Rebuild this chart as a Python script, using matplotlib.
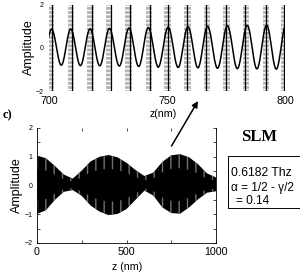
import matplotlib
matplotlib.use("Agg")
import matplotlib.pyplot as plt
import numpy as np
from matplotlib.patches import Rectangle
from matplotlib.ticker import MultipleLocator, FixedLocator

plt.rcParams["font.family"] = ["Liberation Sans", "DejaVu Sans"]

# ===== top panel: zoom 700-800 nm =====
PEAK_Z = [701.1, 709.2, 717.4, 725.6, 733.9, 742.1, 750.5, 758.9, 767.2, 775.6, 784.0, 792.2, 800.4]
PEAK_V = [0.86, 0.87, 0.88, 0.90, 0.92, 0.94, 0.96, 0.98, 1.00, 1.02, 1.04, 1.05, 1.06]
TROUGH_Z = [697.0, 705.2, 713.3, 721.5, 729.8, 738.0, 746.3, 754.7, 763.1, 771.4, 779.8, 788.1, 796.3]
TROUGH_V = [-0.76, -0.79, -0.81, -0.82, -0.83, -0.85, -0.87, -0.89, -0.91, -0.93, -0.95, -0.96, -0.97]

BAND_Z = [700.8, 709.3, 717.6, 725.4, 733.7, 742.4, 750.2, 758.7, 767.0, 775.2, 783.5, 792.0, 799.8]
LINE_Z = [701.1, 709.9, 718.3, 726.1, 734.3, 742.8, 750.4, 758.3, 766.4, 774.9, 783.1, 792.0, 799.6]
BAND_W = 2.6

TOP_XTICKS = [700, 750, 800]
TOP_YTICKS = [-2, 0, 2]

# ===== bottom panel: full 0-1000 nm envelope =====
ENV_Z = [0, 50, 100, 150, 200, 250, 300, 350, 400, 450, 500,
         550, 600, 650, 700, 750, 800, 850, 900, 950, 1000]
ENV_UP = [1.04, 0.95, 0.68, 0.38, 0.24, 0.52, 0.84, 1.00, 1.06, 0.98, 0.79,
          0.54, 0.33, 0.45, 0.82, 1.05, 1.09, 0.98, 0.74, 0.42, 0.28]
ENV_LO = [-0.99, -0.86, -0.50, -0.22, -0.16, -0.36, -0.70, -0.91, -1.03, -0.99, -0.82,
          -0.50, -0.18, -0.35, -0.76, -0.96, -0.98, -0.76, -0.48, -0.25, -0.20]

BOT_XTICKS = [0, 500, 1000]
BOT_YTICKS = [-2, -1, 0, 1, 2]


def wave_from_extrema(zs, vs, n=24):
    # half-cosine segments between successive extrema
    order = np.argsort(zs)
    zs = np.asarray(zs)[order]
    vs = np.asarray(vs)[order]
    xx, yy = [], []
    t = np.linspace(0, 1, n)
    for i in range(len(zs) - 1):
        xx.append(zs[i] + t * (zs[i + 1] - zs[i]))
        yy.append(vs[i] + (vs[i + 1] - vs[i]) * (1 - np.cos(np.pi * t)) / 2)
    return np.concatenate(xx), np.concatenate(yy)


fig = plt.figure(figsize=(3.0, 2.73), dpi=100)

# ---- top axes ----
ax1 = fig.add_axes([49 / 300, 1 - 91.5 / 273, 236 / 300, 87 / 273])
for bz in BAND_Z:
    ax1.axvspan(bz - BAND_W / 2, bz + BAND_W / 2, facecolor="#b4b4b4",
                edgecolor="white", hatch="----", linewidth=0, zorder=1)
for lz in LINE_Z:
    ax1.axvline(lz, color="black", linewidth=0.9, zorder=2)
wz, wv = wave_from_extrema(PEAK_Z + TROUGH_Z, PEAK_V + TROUGH_V)
ax1.plot(wz, wv, color="black", linewidth=1.1, zorder=3)
ax1.set_xlim(700, 800)
ax1.set_ylim(-2, 2)
ax1.set_xticks(TOP_XTICKS)
ax1.set_yticks(TOP_YTICKS)
ax1.tick_params(axis="x", labelsize=7.7, length=0, pad=3)
ax1.tick_params(axis="y", labelsize=5, length=0, pad=4)
for s in ax1.spines.values():
    s.set_visible(False)
fig.text(29 / 300, 1 - 47.5 / 273, "Amplitude", rotation=90,
         ha="center", va="center", fontsize=9)
fig.text(163 / 300, 1 - 114 / 273, "z(nm)", ha="center", va="center", fontsize=7.7)

# ---- bottom axes ----
ax2 = fig.add_axes([37 / 300, 1 - 243 / 273, 179 / 300, 115 / 273])
ax2.fill_between(ENV_Z, ENV_LO, ENV_UP, facecolor="black", edgecolor="#707070",
                 hatch="||", linewidth=0, zorder=2)
core_up = [0.55 * u for u in ENV_UP]
core_lo = [0.55 * l for l in ENV_LO]
ax2.fill_between(ENV_Z, core_lo, core_up, facecolor="black", linewidth=0, zorder=3)
ax2.set_xlim(0, 1000)
ax2.set_ylim(-2, 2)
ax2.xaxis.set_major_locator(FixedLocator(BOT_XTICKS))
ax2.xaxis.set_minor_locator(MultipleLocator(250))
ax2.yaxis.set_major_locator(FixedLocator(BOT_YTICKS))
ax2.yaxis.set_minor_locator(MultipleLocator(0.5))
ax2.tick_params(which="both", direction="in", top=True, right=True,
                length=2.5, width=0.5)
ax2.tick_params(axis="x", labelsize=7.7, pad=3)
ax2.tick_params(axis="y", labelsize=5, pad=3)
ax2.spines["top"].set_visible(False)
for k in ["left", "right", "bottom"]:
    ax2.spines[k].set_linewidth(0.6)
fig.text(17 / 300, 1 - 185 / 273, "Amplitude", rotation=90,
         ha="center", va="center", fontsize=9)
fig.text(127 / 300, 1 - 267 / 273, "z (nm)", ha="center", va="center", fontsize=7.7)

# ---- annotations ----
fig.text(3 / 300, 1 - 115 / 273, "c)", ha="left", va="center", fontsize=9,
         fontweight="bold", family="Liberation Serif")
fig.text(259 / 300, 1 - 137 / 273, "SLM", ha="center", va="center", fontsize=12,
         fontweight="bold", family="Liberation Serif")
ax2.annotate("", xy=(198, 273 - 101), xytext=(171.5, 273 - 146),
             xycoords="figure pixels", textcoords="figure pixels",
             arrowprops=dict(arrowstyle="-|>", color="black", lw=1.1,
                             mutation_scale=9, shrinkA=0, shrinkB=0),
             annotation_clip=False)
fig.add_artist(Rectangle((228 / 300, 1 - 208 / 273), 71.5 / 300, 52 / 273,
                         transform=fig.transFigure, facecolor="white",
                         edgecolor="black", linewidth=0.7))
fig.text(231 / 300, 1 - 172.5 / 273, "0.6182 Thz", ha="left", va="center", fontsize=8.8)
fig.text(231 / 300, 1 - 188 / 273, "\u03b1 = 1/2 - \u03b3/2", ha="left", va="center",
         fontsize=8.6)
fig.text(236 / 300, 1 - 200.5 / 273, "= 0.14", ha="left", va="center", fontsize=8.6)

fig.savefig("out.png", dpi=100)
